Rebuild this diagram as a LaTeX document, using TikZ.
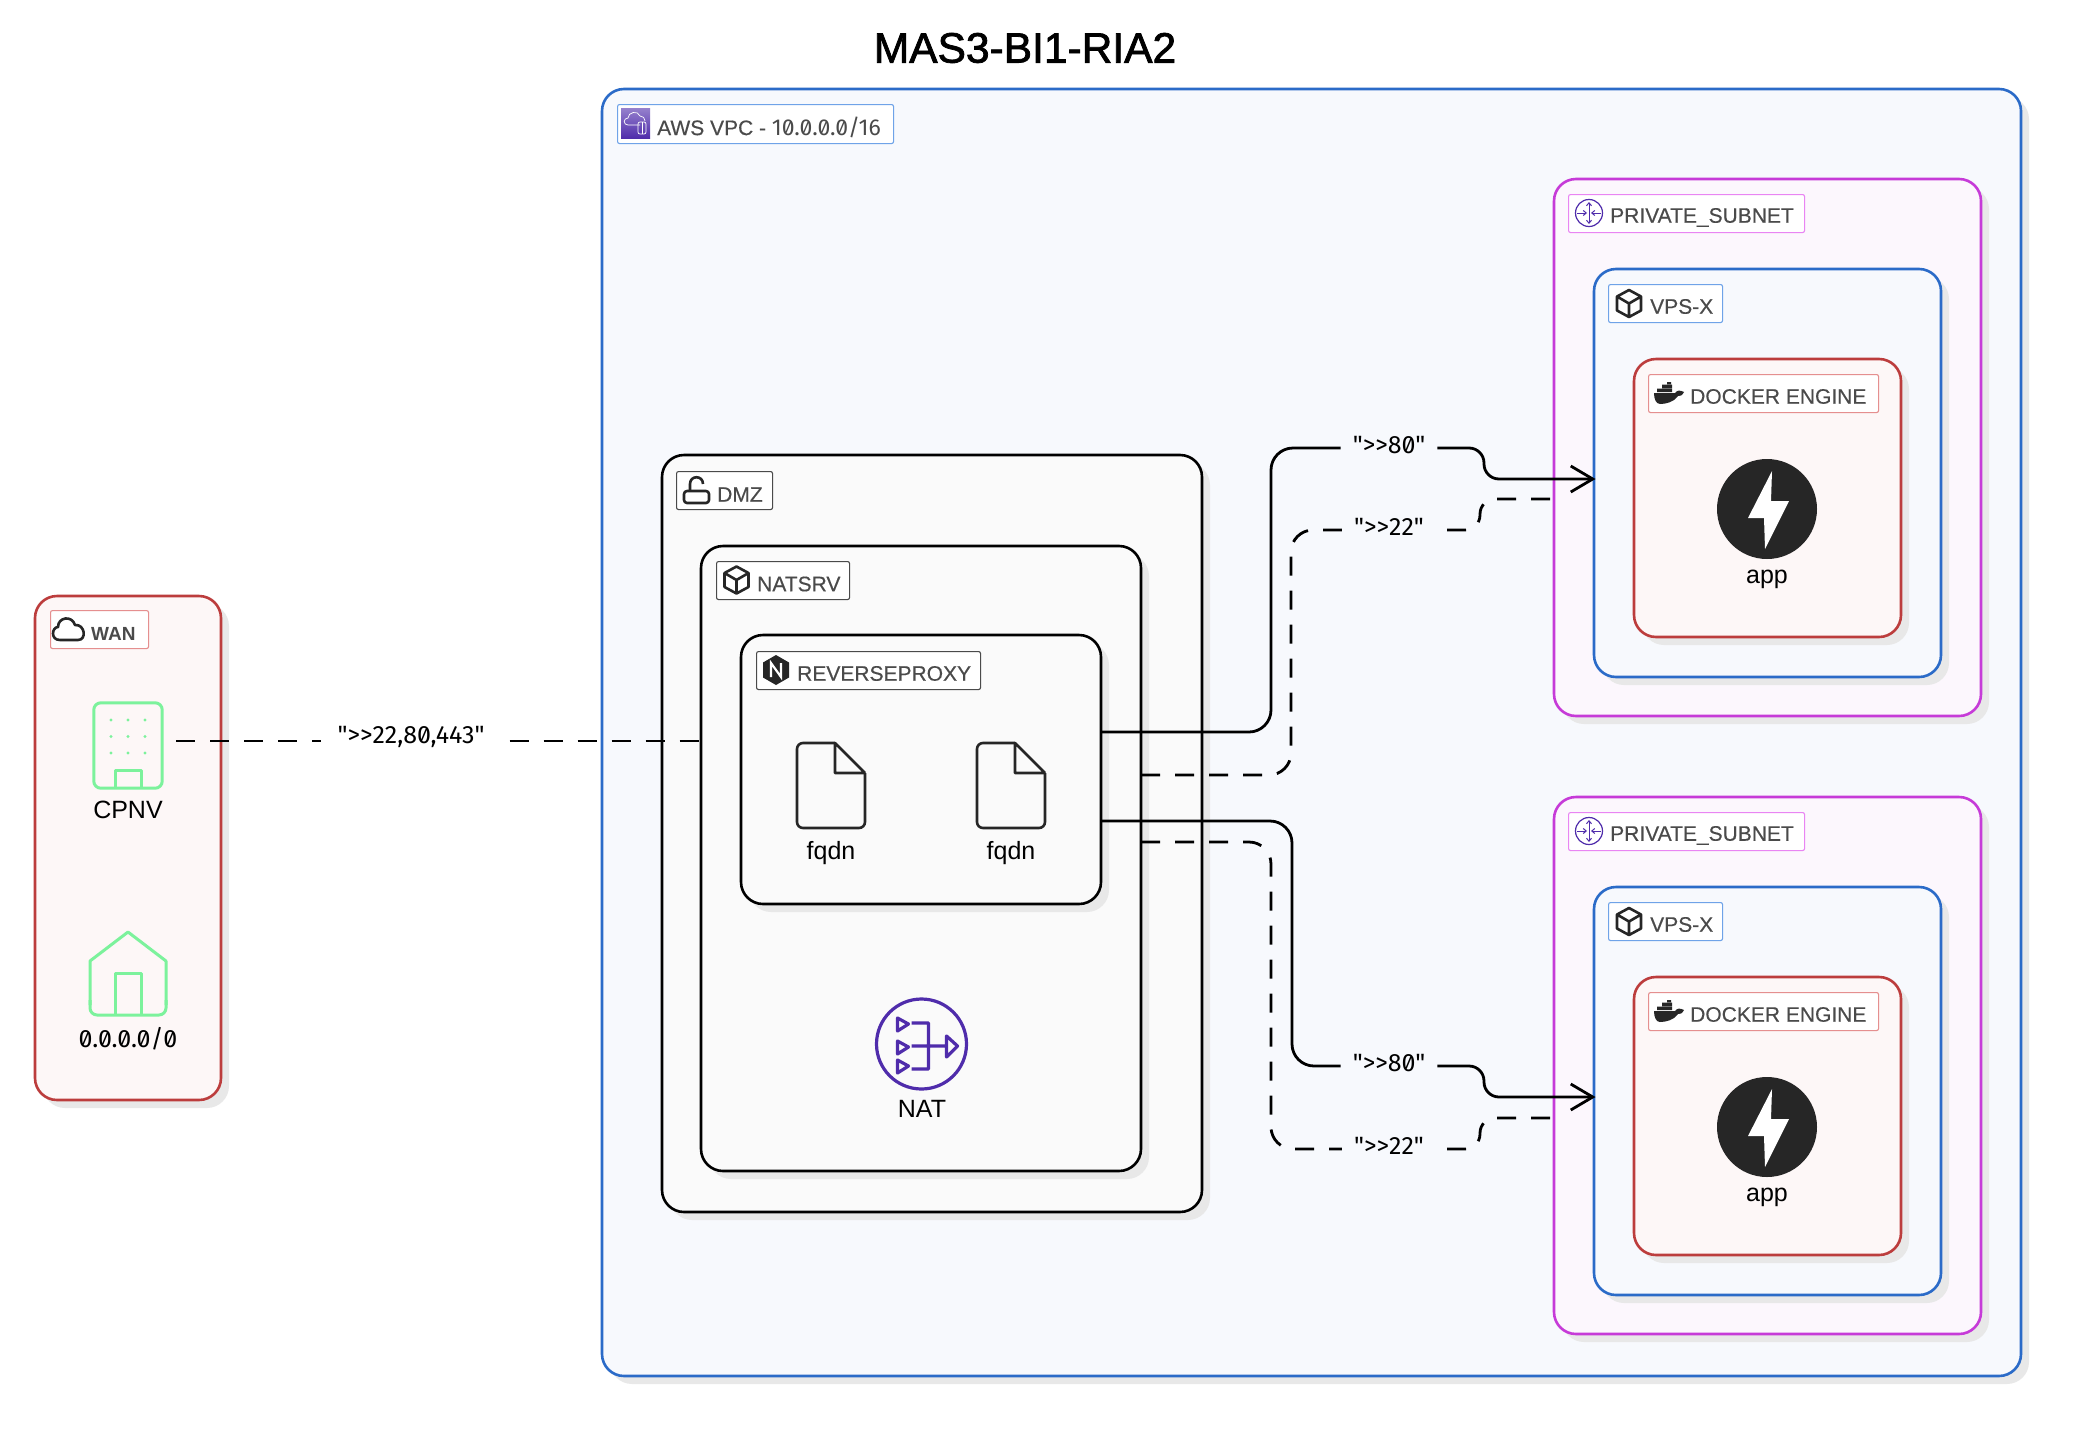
\documentclass[tikz,border=0pt]{standalone}
\usepackage{fontspec}
\setmainfont{Liberation Sans}
\newfontfamily\slashfont[Numbers=SlashedZero]{Fira Sans}
\newfontfamily\heavyfont[FakeBold=0.35]{Liberation Sans}
\newfontfamily\titlefont[FakeBold=1.8]{Liberation Sans}
\usetikzlibrary{arrows.meta,shadows,positioning}
\definecolor{boxblue}{HTML}{2B6BC8}
\definecolor{tagblue}{HTML}{6FA3E8}
\definecolor{fillblue}{HTML}{F7F9FD}
\definecolor{boxred}{HTML}{BC3D3D}
\definecolor{tagred}{HTML}{E58F8F}
\definecolor{fillred}{HTML}{FDF7F7}
\definecolor{boxmag}{HTML}{C63BD8}
\definecolor{tagmag}{HTML}{E985F3}
\definecolor{fillmag}{HTML}{FCF7FD}
\definecolor{fillgrey}{HTML}{FAFAFA}
\definecolor{shadegrey}{HTML}{E8E8E8}
\definecolor{inkgrey}{HTML}{4A4A4A}
\definecolor{inkdark}{HTML}{262626}
\definecolor{housegreen}{HTML}{7CF29C}
\definecolor{awspurple}{HTML}{4F2CAB}
\newcommand{\cubeicon}[2]{\begin{scope}[shift={(#1,#2)}]
    \draw[iconline] (-12,-7) -- (0,-13.5) -- (12,-7) -- (12,7) -- (0,13.5) -- (-12,7) -- cycle
    (-12,-7) -- (0,0) -- (12,-7) (0,0) -- (0,13.5);
  \end{scope}}
\newcommand{\fileicon}[2]{\begin{scope}[shift={(#1,#2)}]
    \draw[iconline,rounded corners=6pt] (38,0) -- (0,0) -- (0,85) -- (68,85) -- (68,30);
    \draw[iconline] (68,30) -- (38,30) -- (38,0) -- (68,30);
  \end{scope}}
\newcommand{\appicon}[2]{\begin{scope}[shift={(#1,#2)}]
    \fill[inkdark] (0,0) circle (50);
    \fill[white] (5,-38) -- (-19,9) -- (-3,9) -- (-2,40) -- (22,-8) -- (4,-8) -- cycle;
  \end{scope}}
\newcommand{\whaleicon}[2]{\begin{scope}[shift={(#1,#2)}]
    \fill[inkdark] (0,11) -- (21,11) .. controls (23,8) and (26,8) .. (30,10) .. controls (28,14) and (26,14) .. (24,14)
    .. controls (20,20) and (12,22) .. (6,22) .. controls (2,22) and (0,17) .. (0,11) -- cycle;
    \fill[inkdark] (3,6.5) rectangle (18,10) (8,2.5) rectangle (18,6) (13,0) rectangle (17,2);
  \end{scope}}
\newcommand{\routericon}[2]{\begin{scope}[shift={(#1,#2)}]
    \draw[awspurple,line width=1.2pt] (0,0) circle (13.5);
    \draw[awspurple,line width=1pt,{Straight Barb[length=3pt,width=5pt]}-{Straight Barb[length=3pt,width=5pt]}] (0,-11) -- (0,11);
    \draw[awspurple,line width=1pt,-{Straight Barb[length=3pt,width=5pt]}] (-12,0) -- (-2,0);
    \draw[awspurple,line width=1pt,-{Straight Barb[length=3pt,width=5pt]}] (12,0) -- (2,0);
  \end{scope}}
\newcommand{\subnetgroup}[2]{\begin{scope}[shift={(0,#2)}]
    \node (subnet#1) [areabox,draw=boxmag,fill=fillmag,minimum width=427pt,minimum height=537pt] at (1554,179) {};
    \node (vps#1) [areabox,draw=boxblue,fill=fillblue,minimum width=347pt,minimum height=408pt] at (1594,269) {};
    \node (docker#1) [areabox,draw=boxred,fill=fillred,minimum width=267pt,minimum height=278pt] at (1634,359) {};
    \node (subnettag#1) [tagbox,draw=tagmag,minimum width=236pt] at (1568,194) {};
    \routericon{1589}{213}
    \node (subnettext#1) [tagtext] at (1610,217.5) {PRIVATE\_SUBNET};
    \node (vpstag#1) [tagbox,draw=tagblue,minimum width=114pt] at (1608,284) {};
    \cubeicon{1629}{303.5}
    \node (vpstext#1) [tagtext] at (1650,306.5) {VPS-X};
    \node (dockertag#1) [tagbox,draw=tagred,minimum width=230pt] at (1648,374) {};
    \whaleicon{1654}{382}
    \node (dockertext#1) [tagtext] at (1690,396.5) {DOCKER ENGINE};
    \appicon{1767}{509}
    \node (app#1) [itemtext] at (1767,579) {app};
  \end{scope}}

\begin{document}
\begin{tikzpicture}[x=1pt,y=-1pt,
    areabox/.style={rectangle,anchor=north west,inner sep=0pt,outer sep=0pt,rounded corners=22pt,line width=2.6pt,
      drop shadow={shadow xshift=8pt,shadow yshift=-8pt,fill=shadegrey,opacity=1}},
    tagbox/.style={rectangle,anchor=north west,inner sep=0pt,fill=white,rounded corners=2pt,line width=1.1pt,minimum height=38pt},
    tagtext/.style={anchor=west,inner sep=0pt,text=inkgrey,font=\heavyfont\fontsize{21}{22}\selectfont},
    itemtext/.style={inner sep=0pt,font=\fontsize{25}{26}\selectfont},
    portlabel/.style={inner ysep=0pt,inner xsep=12pt,font=\slashfont\fontsize{25}{26}\selectfont},
    iconline/.style={draw=inkdark,line width=2.6pt,line join=round},
    greenline/.style={draw=housegreen,line width=3pt,line join=round},
    aline/.style={black,line width=2.8pt,rounded corners=22pt},
    dline/.style={aline,dash pattern=on 19pt off 15pt},
    openarrow/.style={-{Straight Barb[length=22pt,width=26pt,line width=2.8pt]},shorten >=-1.5pt}]
  \path[use as bounding box,fill=white] (0,0) rectangle (2086,1451);

  \node (title) [font=\titlefont\fontsize{42.5}{44}\selectfont,inner sep=0pt] at (1025,48) {MAS3-BI1-RIA2};

  % outer zones
  \node (wan) [areabox,draw=boxred,fill=fillred,minimum width=186pt,minimum height=504pt] at (35,596) {};
  \node (vpc) [areabox,draw=boxblue,fill=fillblue,minimum width=1419pt,minimum height=1287pt] at (602,89) {};
  \node (dmz) [areabox,draw=black,fill=fillgrey,minimum width=540pt,minimum height=757pt] at (662,455) {};
  \node (natsrv) [areabox,draw=black,fill=fillgrey,minimum width=440pt,minimum height=625pt] at (701,546) {};
  \node (reverseproxy) [areabox,draw=black,fill=fillgrey,minimum width=360pt,minimum height=269pt] at (741,635) {};
  \subnetgroup{a}{0}
  \subnetgroup{b}{618}

  % WAN
  \node (wantag) [tagbox,draw=tagred,minimum width=98pt] at (50,610) {};
  \draw[iconline] (60,640) .. controls (50,640) and (52,627) .. (58,627) .. controls (58,617) and (72,615) .. (75,625) .. controls (85,624) and (87,640) .. (78,640) -- cycle;
  \node (wantext) [tagtext,font=\bfseries\fontsize{19}{22}\selectfont] at (91,633.5) {WAN};
  \node (cpnv) [minimum width=68pt,minimum height=85pt,inner sep=0pt] at (128,745.5) {};
  \draw[greenline,rounded corners=7pt] (cpnv.north west) rectangle (cpnv.south east);
  \draw[greenline] (115,788) -- (115,770) -- (141,770) -- (141,788);
  \fill[housegreen] (111,720) circle (1.6) (128,720) circle (1.6) (145,720) circle (1.6)
  (111,736.5) circle (1.6) (128,736.5) circle (1.6) (145,736.5) circle (1.6)
  (111,753) circle (1.6) (128,753) circle (1.6) (145,753) circle (1.6);
  \node (cpnvtext) [itemtext] at (128,810) {CPNV};
  \draw[greenline] (90,1005) -- (90,961) -- (128,932) -- (166,961) -- (166,1005);
  \draw[greenline,rounded corners=7pt] (90,1000) -- (90,1015) -- (166,1015) -- (166,1000);
  \draw[greenline] (115,1015) -- (115,973) -- (141,973) -- (141,1015);
  \node (anyip) [itemtext,font=\slashfont\fontsize{25}{26}\selectfont] at (128,1039) {0.0.0.0/0};

  % VPC tag
  \node (vpctag) [tagbox,draw=tagblue,minimum width=276pt,minimum height=39pt] at (617,104) {};
  \node (vpcicon) [anchor=north west,inner sep=0pt,minimum width=29pt,minimum height=30pt,bottom color=awspurple,top color=awspurple!60!white] at (621,108) {};
  \draw[white,line width=.7pt] (640,125) -- (628,125) .. controls (623,125) and (623,118) .. (628,118) .. controls (628,112) and (638,110) .. (640,116) .. controls (643,116) and (645,118) .. (645,121);
  \draw[white,line width=.7pt,rounded corners=2pt] (638,122) rectangle (646,134);
  \draw[white,line width=.6pt] (642,122) -- (642,134);
  \node (vpctext) [tagtext] at (657,127) {AWS VPC - {\slashfont\fontsize{23}{24}\selectfont 10.0.0.0/16}};

  % DMZ
  \node (dmztag) [tagbox,draw=inkgrey,minimum width=96pt] at (676,471) {};
  \draw[iconline,rounded corners=3pt] (684,491) rectangle (709,503);
  \draw[iconline] (690,491) -- (690,484) .. controls (690,475) and (703,475) .. (703,484);
  \node (dmztext) [tagtext] at (717,494.5) {DMZ};
  \node (natsrvtag) [tagbox,draw=inkgrey,minimum width=133pt] at (716,561) {};
  \cubeicon{736.5}{580}
  \node (natsrvtext) [tagtext] at (757,584) {NATSRV};
  \node (proxytag) [tagbox,draw=inkgrey,minimum width=224pt] at (756,651) {};
  \fill[inkdark] (776,655) -- (789,662.5) -- (789,677.5) -- (776,685) -- (763,677.5) -- (763,662.5) -- cycle;
  \draw[white,line width=2.2pt] (771,677) -- (771,663) -- (781,677) -- (781,663);
  \node (proxytext) [tagtext] at (797,673.5) {REVERSEPROXY};

  \fileicon{797}{743}
  \fileicon{977}{743}
  \node (fqdna) [itemtext] at (831,853) {fqdn};
  \node (fqdnb) [itemtext] at (1011,853) {fqdn};

  % NAT
  \node (nat) [circle,draw=awspurple,line width=3.2pt,minimum size=90pt,inner sep=0pt] at (921.5,1044) {};
  \begin{scope}[shift={(921.5,1044)}]
    \draw[awspurple,line width=3.2pt,line join=round] (-24,-26) -- (-13,-20) -- (-24,-13) -- cycle
    (-24,-3) -- (-13,3) -- (-24,10) -- cycle
    (-24,16) -- (-13,22) -- (-24,29) -- cycle
    (-10,-21) -- (7,-21) -- (7,25) -- (-10,25)
    (-10,2) -- (25,2)
    (25,-8) -- (36,2) -- (25,13) -- cycle;
  \end{scope}
  \node (nattext) [itemtext] at (922,1109) {NAT};

  % port labels
  \node (portwan) [portlabel,inner xsep=16pt] at (411,737) {">{}>22,80,443"};
  \node (porta) [portlabel] at (1389,445) {">{}>80"};
  \node (portb) [portlabel] at (1389,527) {">{}>22"};
  \node (portc) [portlabel] at (1389,1063) {">{}>80"};
  \node (portd) [portlabel] at (1389,1146) {">{}>22"};

  % connectors
  \draw[dline] ([xshift=14pt,yshift=4.5pt]cpnv.east) -- (portwan.west |- 0,741);
  \draw[dline] ([xshift=9pt]portwan.east |- 0,741) -- (natsrv.west |- 0,741);

  \draw[aline] (reverseproxy.east |- 0,732) -- (1271,732) -- (1271,448) -- (porta.west |- 0,448);
  \draw[aline,openarrow] (porta.east |- 0,448) [rounded corners=15pt] -- (1484,448) -- (1484,479) -- (vpsa.west |- 0,479);
  \draw[dline] (natsrv.east |- 0,775) -- (1291,775) -- (1291,530) -- (portb.west |- 0,530);
  \draw[dline] ([xshift=11pt]portb.east |- 0,530) [rounded corners=15pt] -- (1480,530) -- (1480,499) -- (subneta.west |- 0,499);

  \draw[aline] (reverseproxy.east |- 0,821) -- (1292,821) -- (1292,1066) -- (portc.west |- 0,1066);
  \draw[aline,openarrow] (portc.east |- 0,1066) [rounded corners=15pt] -- (1484,1066) -- (1484,1097) -- (vpsb.west |- 0,1097);
  \draw[dline] (natsrv.east |- 0,842) -- (1271,842) -- (1271,1149) -- (portd.west |- 0,1149);
  \draw[dline] ([xshift=11pt]portd.east |- 0,1149) [rounded corners=15pt] -- (1480,1149) -- (1480,1118) -- (subnetb.west |- 0,1118);
\end{tikzpicture}
\end{document}
